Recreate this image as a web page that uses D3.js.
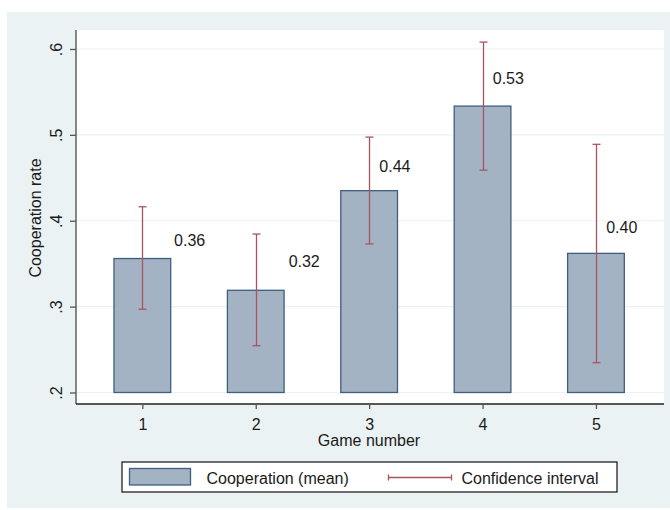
<!DOCTYPE html>
<html><head><meta charset="utf-8">
<script src="https://cdn.jsdelivr.net/npm/d3@7"></script>
<style>body{margin:0;background:#fff}svg{display:block}text{font-family:"Liberation Sans",Arial,sans-serif;fill:#1a1a1a}</style>
</head><body>
<script>
// ---- data ----
const games = [1, 2, 3, 4, 5];
const coopMean = [0.356, 0.319, 0.435, 0.5335, 0.362];
const ciLower = [0.297, 0.2545, 0.373, 0.459, 0.2347];
const ciUpper = [0.4163, 0.3845, 0.4974, 0.608, 0.489];
const valueLabels = ["0.36", "0.32", "0.44", "0.53", "0.40"];
const labelGame = [1.28, 2.29, 3.09, 4.09, 5.09];
const labelLevel = [0.3775, 0.3528, 0.4643, 0.5657, 0.3932];
const yTicks = [0.2, 0.3, 0.4, 0.5, 0.6];
const yTickLabels = [".2", ".3", ".4", ".5", ".6"];
const xTickLabels = ["1", "2", "3", "4", "5"];
const legendLabels = ["Cooperation (mean)", "Confidence interval"];

const W = 670, H = 510;
const svg = d3.select("body").append("svg").attr("width", W).attr("height", H);

// outer background
svg.append("rect").attr("x", 7).attr("y", 12).attr("width", W - 7).attr("height", 496).attr("fill", "#EAF2F3");

const plot = {l: 76, r: 664, t: 30, b: 404};
svg.append("rect").attr("x", plot.l).attr("y", plot.t).attr("width", plot.r - plot.l).attr("height", plot.b - plot.t).attr("fill", "#fff");

const x = d3.scaleLinear().domain([0.415, 5.6]).range([plot.l, plot.r]);
const y = d3.scaleLinear().domain([0.1866, 0.6221]).range([plot.b, plot.t]);

// gridlines
svg.append("g").selectAll("line").data(yTicks).join("line")
  .attr("x1", plot.l).attr("x2", plot.r)
  .attr("y1", d => y(d)).attr("y2", d => y(d))
  .attr("stroke", "#EAF2F3").attr("stroke-width", 1.2);

// bars
const bw = x(1.5) - x(1);
svg.append("g").selectAll("rect").data(games).join("rect")
  .attr("x", (d) => x(d) - bw / 2)
  .attr("y", (d, i) => y(coopMean[i]))
  .attr("width", bw)
  .attr("height", (d, i) => y(0.2) - y(coopMean[i]))
  .attr("fill", "#A4B3C3").attr("stroke", "#3E5E80").attr("stroke-width", 1.3);

// confidence intervals
const ciCol = "#A9535F";
const ci = svg.append("g").attr("stroke", ciCol).attr("stroke-width", 1.3);
games.forEach((g, i) => {
  const cx = Math.round(x(g)) + 0.5;
  ci.append("line").attr("x1", cx).attr("x2", cx).attr("y1", y(ciLower[i])).attr("y2", y(ciUpper[i]));
  ci.append("line").attr("x1", cx - 4).attr("x2", cx + 4).attr("y1", y(ciLower[i])).attr("y2", y(ciLower[i]));
  ci.append("line").attr("x1", cx - 4).attr("x2", cx + 4).attr("y1", y(ciUpper[i])).attr("y2", y(ciUpper[i]));
});

// value labels
svg.append("g").selectAll("text").data(valueLabels).join("text")
  .attr("x", (d, i) => x(labelGame[i]))
  .attr("y", (d, i) => y(labelLevel[i]) + 6)
  .attr("font-size", 16)
  .text(d => d);

// y axis
const yAxis = d3.axisLeft(y).tickValues(yTicks).tickSize(6).tickPadding(4)
  .tickFormat((d, i) => yTickLabels[i]);
const ga = svg.append("g").attr("transform", `translate(${plot.l},0)`).call(yAxis);
ga.select(".domain").attr("stroke", "#555").attr("stroke-width", 1.4).attr("d", `M0,${plot.t}V${plot.b}`);
ga.selectAll(".tick line").attr("stroke", "#555").attr("stroke-width", 1.3);
ga.selectAll(".tick text")
  .attr("font-size", 16).attr("font-family", "Liberation Sans, Arial, sans-serif")
  .attr("fill", "#1a1a1a")
  .attr("text-anchor", "middle").attr("dy", null)
  .attr("transform", "rotate(-90)")
  .attr("x", 0).attr("y", -14);

// x axis
const xAxis = d3.axisBottom(x).tickValues(games).tickSize(5).tickPadding(6)
  .tickFormat((d, i) => xTickLabels[i]);
const gx = svg.append("g").attr("transform", `translate(0,${plot.b})`).call(xAxis);
gx.select(".domain").attr("stroke", "#222").attr("stroke-width", 1.4).attr("d", `M${plot.l},0H${plot.r}`);
gx.selectAll(".tick line").attr("stroke", "#555").attr("stroke-width", 1.3);
gx.selectAll(".tick text").attr("font-size", 16).attr("font-family", "Liberation Sans, Arial, sans-serif")
  .attr("fill", "#1a1a1a").attr("dy", null).attr("y", 26);

// axis titles
svg.append("text").attr("x", (plot.l + plot.r) / 2 - 1).attr("y", 446).attr("text-anchor", "middle")
  .attr("font-size", 16).text("Game number");
svg.append("text").attr("transform", `translate(41,218) rotate(-90)`).attr("text-anchor", "middle")
  .attr("font-size", 16).text("Cooperation rate");

// legend
const lg = svg.append("g");
lg.append("rect").attr("x", 122).attr("y", 462).attr("width", 495).attr("height", 30)
  .attr("fill", "#fff").attr("stroke", "#111").attr("stroke-width", 1.2);
lg.append("rect").attr("x", 129.5).attr("y", 468.5).attr("width", 61).attr("height", 16.5)
  .attr("fill", "#A4B3C3").attr("stroke", "#3E5E80").attr("stroke-width", 1.3);
lg.append("text").attr("x", 206.5).attr("y", 484).attr("font-size", 16).text(legendLabels[0]);
const lgy = 477.5;
lg.append("line").attr("x1", 388).attr("x2", 452).attr("y1", lgy).attr("y2", lgy).attr("stroke", ciCol).attr("stroke-width", 1.3);
lg.append("line").attr("x1", 388.5).attr("x2", 388.5).attr("y1", lgy - 3).attr("y2", lgy + 3).attr("stroke", ciCol).attr("stroke-width", 1.3);
lg.append("line").attr("x1", 451.5).attr("x2", 451.5).attr("y1", lgy - 3).attr("y2", lgy + 3).attr("stroke", ciCol).attr("stroke-width", 1.3);
lg.append("text").attr("x", 461.5).attr("y", 484).attr("font-size", 16).text(legendLabels[1]);
</script>
</body></html>
